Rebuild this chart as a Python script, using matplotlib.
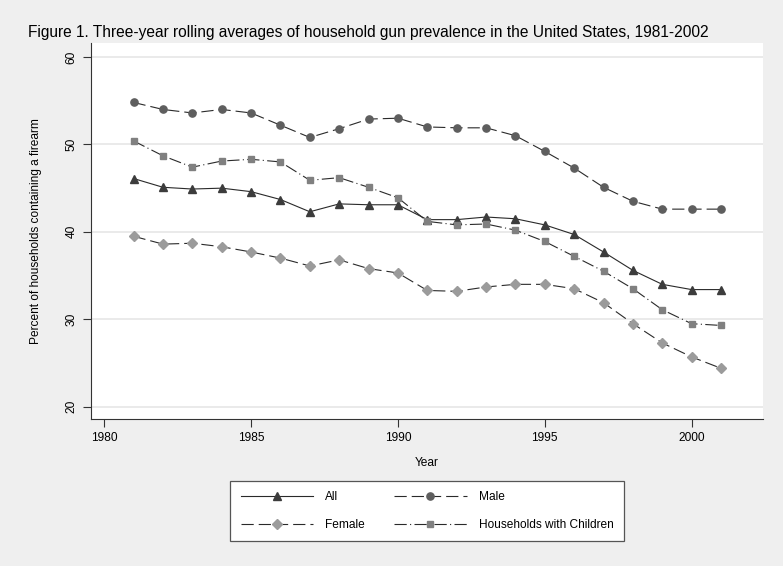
import matplotlib
matplotlib.use("Agg")
import matplotlib.pyplot as plt

plt.rcParams['font.family'] = ['Liberation Sans', 'DejaVu Sans']

years = list(range(1981, 2002))
all_hh = [46.1, 45.1, 44.9, 45.0, 44.6, 43.7, 42.3, 43.2, 43.1, 43.1, 41.4,
          41.4, 41.7, 41.5, 40.8, 39.7, 37.7, 35.6, 34.0, 33.4, 33.4]
male = [54.8, 54.0, 53.6, 54.0, 53.6, 52.2, 50.8, 51.8, 52.9, 53.0, 52.0,
        51.9, 51.9, 51.0, 49.2, 47.3, 45.1, 43.5, 42.6, 42.6, 42.6]
female = [39.5, 38.6, 38.7, 38.3, 37.7, 37.0, 36.1, 36.8, 35.8, 35.3, 33.3,
          33.2, 33.7, 34.0, 34.0, 33.5, 31.9, 29.5, 27.3, 25.7, 24.4]
with_children = [50.4, 48.7, 47.4, 48.1, 48.3, 48.0, 45.9, 46.2, 45.1, 43.9, 41.2,
                 40.8, 40.9, 40.2, 38.9, 37.2, 35.5, 33.5, 31.1, 29.5, 29.3]

title = "Figure 1. Three-year rolling averages of household gun prevalence in the United States, 1981-2002"

W, H = 783, 566
fig = plt.figure(figsize=(W / 100, H / 100), dpi=100, facecolor='#efefef')
ax = fig.add_axes([91 / W, 1 - 419 / H, (763 - 91) / W, (419 - 43) / H])
ax.set_facecolor('white')

lc = '#2a2a2a'
lw = 0.8
l_all, = ax.plot(years, all_hh, color=lc, lw=lw, ls='-', marker='^', ms=5.5,
                 mfc='#3c3c3c', mec='#3c3c3c', label='All')
l_male, = ax.plot(years, male, color=lc, lw=lw, ls=(0, (11, 4.5)), marker='o', ms=5.2,
                  mfc='#5e5e5e', mec='#5e5e5e', label='Male')
l_fem, = ax.plot(years, female, color=lc, lw=lw, ls=(0, (11, 4.5)), marker='D', ms=4.6,
                 mfc='#9b9b9b', mec='#9b9b9b', label='Female')
l_kids, = ax.plot(years, with_children, color=lc, lw=lw, ls=(0, (11, 3, 1, 3)), marker='s', ms=4.5,
                  mfc='#808080', mec='#808080', label='Households with Children')

ax.set_xlim(1979.55, 2002.43)
ax.set_ylim(18.6, 61.6)
ax.set_xticks([1980, 1985, 1990, 1995, 2000])
ax.set_yticks([20, 30, 40, 50, 60])
ax.grid(axis='y', color='#e6e6e6', lw=1.2)
ax.set_axisbelow(True)
for s in ['top', 'right']:
    ax.spines[s].set_visible(False)
for s in ['left', 'bottom']:
    ax.spines[s].set_color('#333333')
    ax.spines[s].set_linewidth(0.8)
ax.tick_params(length=5.5, width=0.8, color='#333333', labelsize=8.6, pad=4)
for lab in ax.get_yticklabels():
    lab.set_rotation(90)
    lab.set_va('center')

ax.set_xlabel("Year", fontsize=8.6, labelpad=9)
ax.set_ylabel("Percent of households containing a firearm", fontsize=8.6, labelpad=17)

fig.text(28 / W, 1 - 32 / H, title, fontsize=11.2, ha='left', va='center')

# column-wise fill: All/Female in col 1, Male/Households in col 2
handles = [l_all, l_fem, l_male, l_kids]
leg = fig.legend(handles, [h.get_label() for h in handles],
                 loc='center', bbox_to_anchor=((231 + 623) / 2 / W, 1 - 511 / H),
                 ncol=2, fontsize=8.6, numpoints=1, handlelength=6.1, handletextpad=1.0,
                 columnspacing=2.4, labelspacing=1.35, borderpad=0.85,
                 fancybox=False, framealpha=1, edgecolor='#555555', facecolor='white')
leg.get_frame().set_linewidth(0.9)

fig.savefig("out.png", dpi=100, facecolor=fig.get_facecolor())
